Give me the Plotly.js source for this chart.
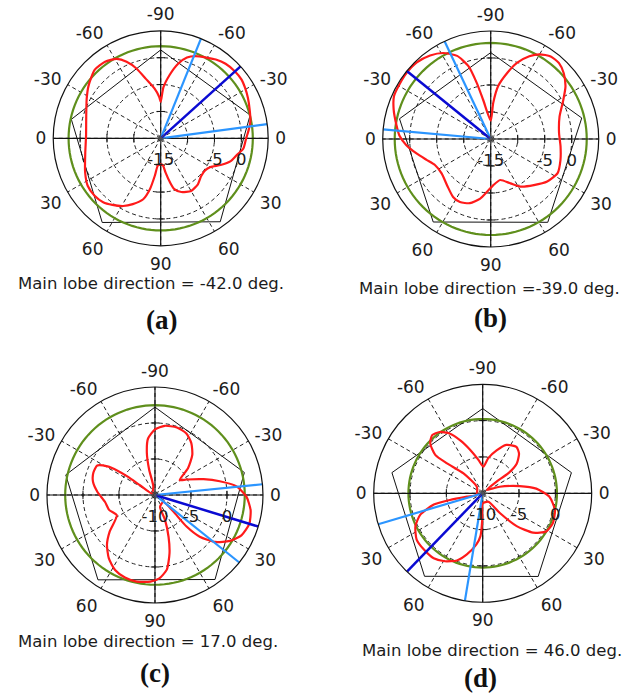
<!DOCTYPE html>
<html><head><meta charset="utf-8">
<script src="https://cdn.plot.ly/plotly-3.0.1.min.js"></script>
<style>html,body{margin:0;padding:0;background:#fff}#chart{width:640px;height:693px}</style>
</head><body><div id="chart"></div>
<script>
// ---- angular axis: degrees clockwise from the right, labelled -90..90 on each half
const ANG_TICKS = [0,30,60,90,120,150,180,210,240,270,300,330];
const ANG_LABELS = ['0','30','60','90','60','30','0','-30','-60','-90','-60','-30'];

// ---- radial axes (dB)
const RANGE_AB = [-15, 5];
const RANGE_CD = [-10, 5];
const GRID_AB = [-10, -5, 0];
const GRID_CD = [-5, 0];
const RLAB_AB = ['-15', '-5', '0'];
const RLAB_R_AB = [-15, -5, 0];
const RLAB_CD = ['-10', '-5', '0'];
const RLAB_R_CD = [-10, -5, 0];

// ---- captions
const CAPTIONS = ['Main lobe direction = -42.0 deg.', 'Main lobe direction =-39.0 deg.',
                  'Main lobe direction = 17.0 deg.', 'Main lobe direction = 46.0 deg.'];
const PANEL_TAGS = ['(a)', '(b)', '(c)', '(d)'];

// ---- (a)
const A_THETA = [-90,-87,-82,-77,-72,-67,-60,-55,-49,-42,-36,-31,-25,-18,-11,-5,0,7,13,18,24,30,36,43,51,60,69,75,78,82,85,90,96,99,102,106,113,119,126,132,139,147,156,169,182,195,208,216,226,234,241,246,251,256,263,268,270];
const A_DB    = [-8.2,-5.5,-3.1,-0.8,0.8,1.6,2.3,2.9,3.4,3.6,3.6,3.3,2.9,2.4,2.0,1.4,0.9,0.5,-0.6,-1.3,-2.8,-4.3,-4.8,-4.7,-4.0,-3.7,-4.3,-5.2,-6.6,-8.6,-9.9,-10.2,-9.9,-7.9,-5.3,-3.2,-1.7,-0.6,0.3,1.0,1.3,1.2,0.4,-0.7,-1.1,-0.65,0.6,1.6,2.7,2.6,1.9,0.6,-1.3,-3.6,-5.7,-7.3,-8.2];
const A_PENT_THETA = [-90,-14.6,54.5,124.8,192,-90];
const A_PENT_DB    = [1.45,2.2,4.07,4.07,2.0,1.45];
const A_GREEN = 2.14;
const A_MAIN = -42;
const A_EDGES = [-68, -7.6];

// ---- (b)
const B_THETA = [-90,-86,-82,-76,-71,-65,-60,-54,-48,-42,-35,-28,-18,-5,6,17,27,37,47,58,66,77,87,94,100,108,116,123,132,145,155,162,169,176,182,188,197,204,211,218,226,234,241,248,253,256,259,270];
const B_DB    = [-11.6,-8.3,-5.1,-2.4,-0.1,1.9,3.1,3.9,3.9,3.2,1.9,0.2,-1.6,-2.3,-2.0,-1.5,-1.1,-1.9,-3.3,-4.6,-6.0,-7.2,-6.4,-5.2,-3.8,-2.5,-2.0,-2.2,-3.1,-3.9,-3.6,-2.5,-1.0,0.7,1.9,2.6,3.8,4.6,4.7,4.8,4.7,4.1,3.2,1.6,-0.9,-4.3,-7.6,-11.6];
const B_PENT_THETA = [-90,-13,55.6,124.7,192.5,-90];
const B_PENT_DB    = [1.0,2.3,3.7,3.7,2.3,1.0];
const B_GREEN = 2.78;
const B_MAIN = 219;
const B_EDGES = [244.7, 185.1];

// ---- (c)
const C_THETA = [206,259,257,259,263,270,278,288,297,305,313,321,329,334,342,348,354,361,369,377,385,391.5,398,403,405,402,399,427,428,432,436,441,447,453,462,470,478,486,494,501,512,522,532,543,552,560,567,571,573,574,573,566];
const C_DB    = [-9.5,-8.8,-6.4,-4.1,-2.1,-0.9,-0.3,-0.15,-0.4,-1.2,-2.4,-4.1,-6.0,-5.1,-2.9,-0.8,1.4,2.7,3.45,3.7,3.25,2.2,0.6,-1.5,-3.8,-6.6,-8.5,-8.2,-6.3,-3.9,-1.65,0.5,1.6,2.05,2.3,2.2,1.8,0.9,-0.4,-1.9,-4.0,-3.3,-3.0,-2.0,-1.2,-0.9,-1.0,-2.3,-3.8,-5.5,-7.5,-9.5];
const C_PENT_THETA = [-90,-14.1,54.6,123.9,192.7,-90];
const C_PENT_DB    = [2.2,2.8,4.4,4.2,2.7,2.2];
const C_GREEN = 2.47;
const C_MAIN = 17;
const C_EDGES = [-5.7, 38.7];

// ---- (d)
const D_THETA = [228,226,220,219,223.5,229,235,241,247,254,263,271.4,279,288,296,306,312.5,319,322,320,320,339,349,355,363,373,383,391,398,404,409,416,450,451,453,457,464.5,471,479,487,496,505,514,521,527,528.5,528,524.5,588];
const D_DB    = [-8.8,-6.2,-3.6,-1.6,-0.05,0.6,0.3,-0.6,-2.1,-3.8,-5.4,-6.35,-5.1,-3.8,-2.6,-2.1,-2.6,-3.8,-5.5,-7.5,-9.3,-7.5,-4.8,-2.6,-0.8,0.2,0.5,0.2,-1.2,-3.5,-6.4,-8.6,-8.6,-6.35,-4.1,-2.9,-1.3,-0.1,0.7,1.2,1.2,1.1,0.3,-0.9,-3.1,-5.4,-7.8,-9.1,-8.8];
const D_PENT_THETA = [-90,-13.1,56.3,125,192.8,-90];
const D_PENT_DB    = [1.66,2.54,3.76,3.95,2.81,1.66];
const D_GREEN = 0.22;
const D_MAIN = 134;
const D_EDGES = [163.5, 99.4];

// ---- styles
const FONT = 'DejaVu Sans, Verdana, sans-serif';
const TXT = '#1c1c1c';
const RED = '#ff1a1a', GREEN = '#5f8f1c', DARKBLUE = '#0a0ad2', LIGHTBLUE = '#2b95ff';

const panels = [
  {sp:'polar',  th:A_THETA, db:A_DB, pt:A_PENT_THETA, pd:A_PENT_DB, green:A_GREEN, main:A_MAIN, edges:A_EDGES, range:RANGE_AB, grid:GRID_AB, rl:RLAB_AB, rr:RLAB_R_AB,
   dom:{x:[0.0831,0.4191], y:[0.6453,0.9555]}},
  {sp:'polar2', th:B_THETA, db:B_DB, pt:B_PENT_THETA, pd:B_PENT_DB, green:B_GREEN, main:B_MAIN, edges:B_EDGES, range:RANGE_AB, grid:GRID_AB, rl:RLAB_AB, rr:RLAB_R_AB,
   dom:{x:[0.598,0.9355], y:[0.6436,0.9553]}},
  {sp:'polar3', th:C_THETA, db:C_DB, pt:C_PENT_THETA, pd:C_PENT_DB, green:C_GREEN, main:C_MAIN, edges:C_EDGES, range:RANGE_CD, grid:GRID_CD, rl:RLAB_CD, rr:RLAB_R_CD,
   dom:{x:[0.0734,0.4109], y:[0.1299,0.4416]}},
  {sp:'polar4', th:D_THETA, db:D_DB, pt:D_PENT_THETA, pd:D_PENT_DB, green:D_GREEN, main:D_MAIN, edges:D_EDGES, range:RANGE_CD, grid:GRID_CD, rl:RLAB_CD, rr:RLAB_R_CD,
   dom:{x:[0.5839,0.9245], y:[0.1309,0.4455]}}
];

const CAP_POS = [[0.236,0.5916],[0.765,0.5844],[0.231,0.0736],[0.769,0.062]];
const TAG_POS = [[0.2516,0.5382],[0.767,0.541],[0.242,0.0289],[0.75,0.0216]];

const traces = [];
const layout = {
  width: 640, height: 693, margin:{l:0,r:0,t:0,b:0}, paper_bgcolor:'#fff',
  showlegend:false, annotations:[]
};

panels.forEach((p, i) => {
  const lo = p.range[0], hi = p.range[1];
  // pentagon
  traces.push({type:'scatterpolar', subplot:p.sp, r:p.pd, theta:p.pt, mode:'lines',
    line:{color:'#111', width:1}, hoverinfo:'skip'});
  // constant reference circle
  const gt = [], gr = [];
  for (let t = 0; t <= 360; t += 3) { gt.push(t); gr.push(p.green); }
  traces.push({type:'scatterpolar', subplot:p.sp, r:gr, theta:gt, mode:'lines',
    line:{color:GREEN, width:2.2}, hoverinfo:'skip'});
  // solid cross axes
  traces.push({type:'scatterpolar', subplot:p.sp, r:[hi,lo,hi,null,hi,lo,hi], theta:[0,0,180,null,90,90,270],
    mode:'lines', line:{color:'#111', width:1.2}, hoverinfo:'skip', connectgaps:false});
  // small ticks on the axes
  traces.push({type:'scatterpolar', subplot:p.sp, r:p.grid.concat(p.grid), theta:p.grid.map(()=>0).concat(p.grid.map(()=>180)),
    mode:'markers', marker:{symbol:'line-ns-open', size:6, color:'#111', line:{width:1, color:'#111'}}, hoverinfo:'skip'});
  traces.push({type:'scatterpolar', subplot:p.sp, r:p.grid.concat(p.grid), theta:p.grid.map(()=>90).concat(p.grid.map(()=>270)),
    mode:'markers', marker:{symbol:'line-ew-open', size:6, color:'#111', line:{width:1, color:'#111'}}, hoverinfo:'skip'});
  // radiation pattern
  traces.push({type:'scatterpolar', subplot:p.sp, r:p.db, theta:p.th, mode:'lines',
    line:{color:RED, width:2.2, shape:'spline', smoothing:0.6}, hoverinfo:'skip'});
  // beam edges
  traces.push({type:'scatterpolar', subplot:p.sp, r:[lo,hi,null,lo,hi], theta:[p.edges[0],p.edges[0],null,p.edges[1],p.edges[1]],
    mode:'lines', line:{color:LIGHTBLUE, width:2.2}, connectgaps:false, hoverinfo:'skip'});
  // main lobe direction
  traces.push({type:'scatterpolar', subplot:p.sp, r:[lo,hi], theta:[p.main,p.main],
    mode:'lines', line:{color:DARKBLUE, width:2.5}, hoverinfo:'skip'});
  // centre mark
  traces.push({type:'scatterpolar', subplot:p.sp, r:[lo], theta:[0], mode:'markers',
    marker:{symbol:'asterisk-open', size:9, color:'#555', line:{width:1, color:'#555'}}, hoverinfo:'skip'});
  // radial labels
  traces.push({type:'scatterpolar', subplot:p.sp, r:p.rr, theta:p.rr.map(()=>0), mode:'markers+text',
    text:p.rl, textposition:'bottom center', marker:{size:22, opacity:0},
    textfont:{family:FONT, size:16.5, color:TXT}, cliponaxis:false, hoverinfo:'skip'});

  layout[p.sp] = {
    domain:p.dom, bgcolor:'rgba(0,0,0,0)',
    angularaxis:{direction:'clockwise', rotation:0, tickmode:'array', tickvals:ANG_TICKS, ticktext:ANG_LABELS,
      tickfont:{family:FONT, size:17, color:TXT}, showline:true, linecolor:'#111', linewidth:1.2,
      showgrid:true, gridcolor:'#222', gridwidth:1, griddash:'4px,3px', ticks:'outside', ticklen:3, tickcolor:'rgba(0,0,0,0)'},
    radialaxis:{range:p.range, tickmode:'array', tickvals:p.grid, showticklabels:false, showline:false, ticks:'',
      showgrid:true, gridcolor:'#222', gridwidth:1, griddash:'4px,3px'}
  };
  layout.annotations.push({xref:'paper', yref:'paper', x:CAP_POS[i][0], y:CAP_POS[i][1], xanchor:'center', yanchor:'middle',
    text:CAPTIONS[i], showarrow:false, font:{family:FONT, size:16.5, color:TXT}});
  layout.annotations.push({xref:'paper', yref:'paper', x:TAG_POS[i][0], y:TAG_POS[i][1], xanchor:'center', yanchor:'middle',
    text:'<b>' + PANEL_TAGS[i] + '</b>', showarrow:false, font:{family:'Liberation Serif, Times New Roman, serif', size:27, color:'#111'}});
});

Plotly.newPlot('chart', traces, layout, {staticPlot:true, displayModeBar:false});
</script></body></html>
